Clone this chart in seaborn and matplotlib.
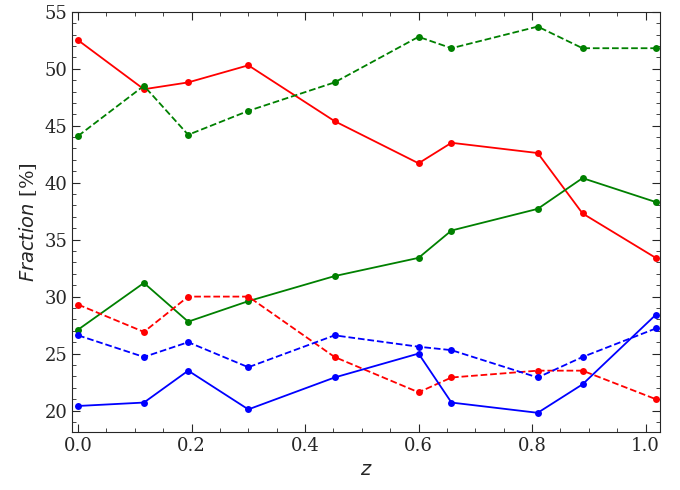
import matplotlib
matplotlib.use("Agg")
import matplotlib.pyplot as plt
import seaborn as sns
import pandas as pd
from matplotlib.ticker import AutoMinorLocator

z = [0.0, 0.116, 0.194, 0.30, 0.452, 0.60, 0.658, 0.81, 0.889, 1.018]
red_solid = [52.5, 48.2, 48.8, 50.3, 45.4, 41.7, 43.5, 42.6, 37.3, 33.4]
green_dashed = [44.1, 48.5, 44.2, 46.3, 48.8, 52.8, 51.8, 53.7, 51.8, 51.8]
green_solid = [27.1, 31.2, 27.8, 29.6, 31.8, 33.4, 35.8, 37.7, 40.4, 38.3]
red_dashed = [29.3, 26.9, 30.0, 30.0, 24.7, 21.6, 22.9, 23.5, 23.5, 21.0]
blue_dashed = [26.6, 24.7, 26.0, 23.8, 26.6, 25.6, 25.3, 22.9, 24.7, 27.2]
blue_solid = [20.4, 20.7, 23.5, 20.1, 22.9, 25.0, 20.7, 19.8, 22.3, 28.4]

sns.set_style("ticks")
plt.rcParams['font.family'] = ['DejaVu Serif']
fig, ax = plt.subplots(figsize=(6.8, 4.9), dpi=100)
series = [(red_solid, 'red', '-'), (green_dashed, 'green', '--'), (green_solid, 'green', '-'),
          (red_dashed, 'red', '--'), (blue_dashed, 'blue', '--'), (blue_solid, 'blue', '-')]
for vals, c, ls in series:
    df = pd.DataFrame({'z': z, 'f': vals})
    sns.lineplot(data=df, x='z', y='f', color=c, linestyle=ls, marker='o', markersize=5,
                 markeredgewidth=0, lw=1.3, ax=ax)
ax.set_xlim(-0.0106, 1.026)
ax.set_ylim(18.1, 55)
ax.set_xlabel('$z$', fontsize=14)
ax.set_ylabel('$Fraction$ [%]', fontsize=14)
ax.xaxis.set_minor_locator(AutoMinorLocator(4))
ax.yaxis.set_minor_locator(AutoMinorLocator(5))
ax.tick_params(which='both', direction='in', top=True, right=True, labelsize=13)
ax.tick_params(which='major', length=6)
ax.tick_params(which='minor', length=3)
fig.subplots_adjust(left=0.106, right=0.971, top=0.976, bottom=0.118)
fig.savefig('out.png', dpi=100)
